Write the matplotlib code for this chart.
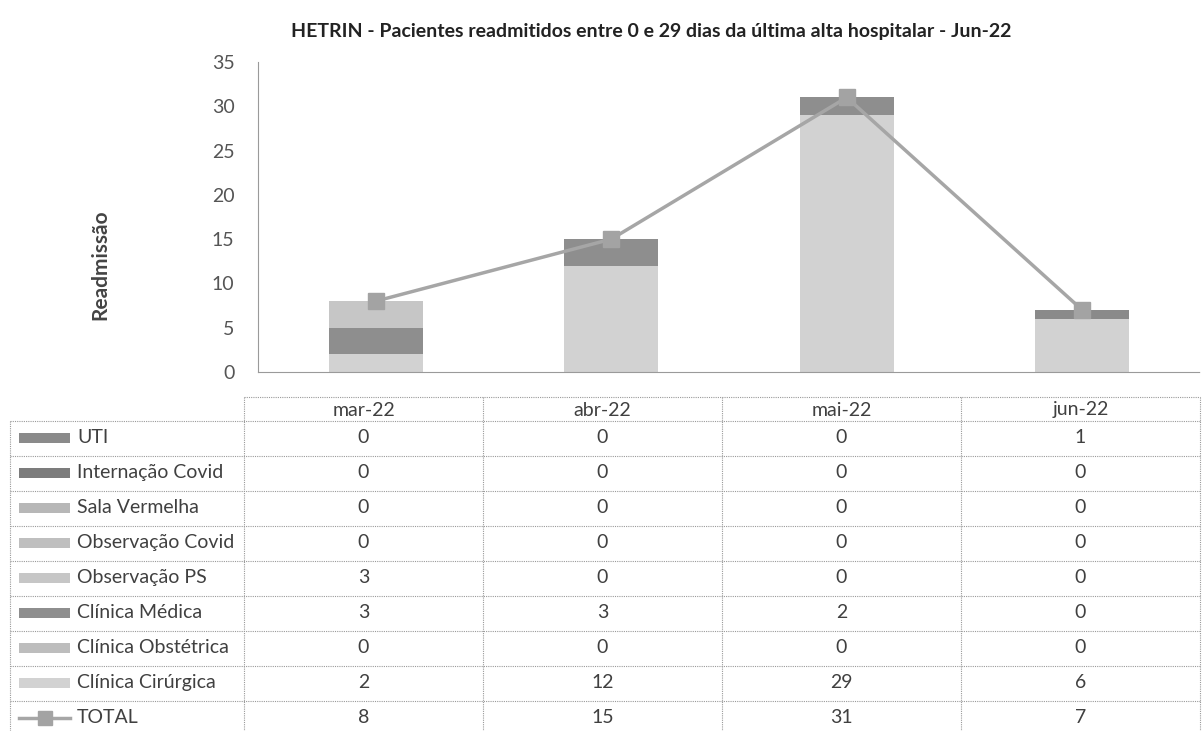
import numpy as np
import matplotlib
matplotlib.use("Agg")
import matplotlib.pyplot as plt
from matplotlib.patches import Rectangle
from matplotlib.lines import Line2D

plt.rcParams['font.family'] = ['Lato', 'DejaVu Sans']

# dados do grafico (readmissoes por setor)
meses = ["mar-22", "abr-22", "mai-22", "jun-22"]
uti = [0, 0, 0, 1]
internacao_covid = [0, 0, 0, 0]
sala_vermelha = [0, 0, 0, 0]
observacao_covid = [0, 0, 0, 0]
observacao_ps = [3, 0, 0, 0]
clinica_medica = [3, 3, 2, 0]
clinica_obstetrica = [0, 0, 0, 0]
clinica_cirurgica = [2, 12, 29, 6]
total = [8, 15, 31, 7]

titulo = "HETRIN - Pacientes readmitidos entre 0 e 29 dias da última alta hospitalar - Jun-22"

# ordem de empilhamento (de baixo para cima)
series = [
    ("Clínica Cirúrgica", clinica_cirurgica, "#d2d2d2"),
    ("Clínica Obstétrica", clinica_obstetrica, "#bdbdbd"),
    ("Clínica Médica", clinica_medica, "#8e8e8e"),
    ("Observação PS", observacao_ps, "#c6c6c6"),
    ("Observação Covid", observacao_covid, "#bfbfbf"),
    ("Sala Vermelha", sala_vermelha, "#b7b7b7"),
    ("Internação Covid", internacao_covid, "#7c7c7c"),
    ("UTI", uti, "#8a8a8a"),
]
cor_total = "#a6a6a6"
cor_texto = "#404040"
cor_grade = "#9a9a9a"

W, H = 1202, 731
fig = plt.figure(figsize=(W / 100, H / 100), dpi=100)

# ---- grafico de barras empilhadas ----
ax = fig.add_axes([258 / W, 1 - 372 / H, (1200 - 258) / W, (372 - 62) / H])
x = np.arange(len(meses))
base = np.zeros(len(meses))
for nome, vals, cor in series:
    ax.bar(x, vals, bottom=base, width=0.4, color=cor, linewidth=0, zorder=2)
    base += np.array(vals)
ax.plot(x, total, color=cor_total, lw=2.5, marker="s", ms=12,
        markerfacecolor="#a3a3a3", markeredgecolor="#a3a3a3", zorder=3)

ax.set_xlim(-0.5, len(meses) - 0.5)
ax.set_ylim(0, 35)
ax.set_yticks(np.arange(0, 36, 5))
ax.set_xticks([])
ax.tick_params(axis="y", length=0, pad=17, labelsize=14, labelcolor="#555555")
for s in ["top", "right"]:
    ax.spines[s].set_visible(False)
for s in ["left", "bottom"]:
    ax.spines[s].set_color(cor_grade)
    ax.spines[s].set_linestyle((0, (1, 1)))
    ax.spines[s].set_linewidth(0.8)

fig.text(100 / W, 1 - 265 / H, "Readmissão", rotation=90, ha="center", va="center",
         fontsize=15, fontweight="bold", color="#444444")
fig.text(651 / W, 1 - 32 / H, titulo, ha="center", va="center",
         fontsize=14, fontweight="bold", color="#222222")

# ---- tabela de dados ----
tx = fig.add_axes([0, 0, 1, 1], zorder=-1)
tx.set_xlim(0, W)
tx.set_ylim(H, 0)
tx.axis("off")

col_x = [244, 483, 722, 961, 1200]
left = 10
top_header = 397
row0 = 421
row_h = 35

linhas = [(nome, vals, cor) for nome, vals, cor in series[::-1]]
linhas.append(("TOTAL", total, None))

grid_kw = dict(color=cor_grade, lw=0.8, linestyle=(0, (1, 1)))
bottom = row0 + row_h * len(linhas)
# linhas horizontais
tx.plot([col_x[0], col_x[-1]], [top_header, top_header], **grid_kw)
for i in range(len(linhas) + 1):
    y = row0 + row_h * i
    tx.plot([left, col_x[-1]], [y, y], **grid_kw)
# linhas verticais
tx.plot([left, left], [row0, bottom], **grid_kw)
for cx in col_x:
    tx.plot([cx, cx], [top_header, bottom], **grid_kw)

for j, m in enumerate(meses):
    cx = (col_x[j] + col_x[j + 1]) / 2
    tx.text(cx, (top_header + row0) / 2 + 1, m, ha="center", va="center",
            fontsize=14, color=cor_texto)

for i, (nome, vals, cor) in enumerate(linhas):
    yc = row0 + row_h * i + row_h / 2 - 1
    if cor is not None:
        tx.add_patch(Rectangle((19, yc - 5), 51, 10, color=cor, lw=0))
    else:
        tx.add_line(Line2D([19, 70], [yc, yc], color=cor_total, lw=2.5))
        tx.add_line(Line2D([45], [yc], marker="s", ms=10, color="#a3a3a3", lw=0))
    tx.text(77, yc, nome, ha="left", va="center", fontsize=14, color=cor_texto)
    for j, v in enumerate(vals):
        cx = (col_x[j] + col_x[j + 1]) / 2
        tx.text(cx, yc, str(v), ha="center", va="center", fontsize=14,
                color=cor_texto)

fig.savefig("out.png", dpi=100, facecolor="white")
